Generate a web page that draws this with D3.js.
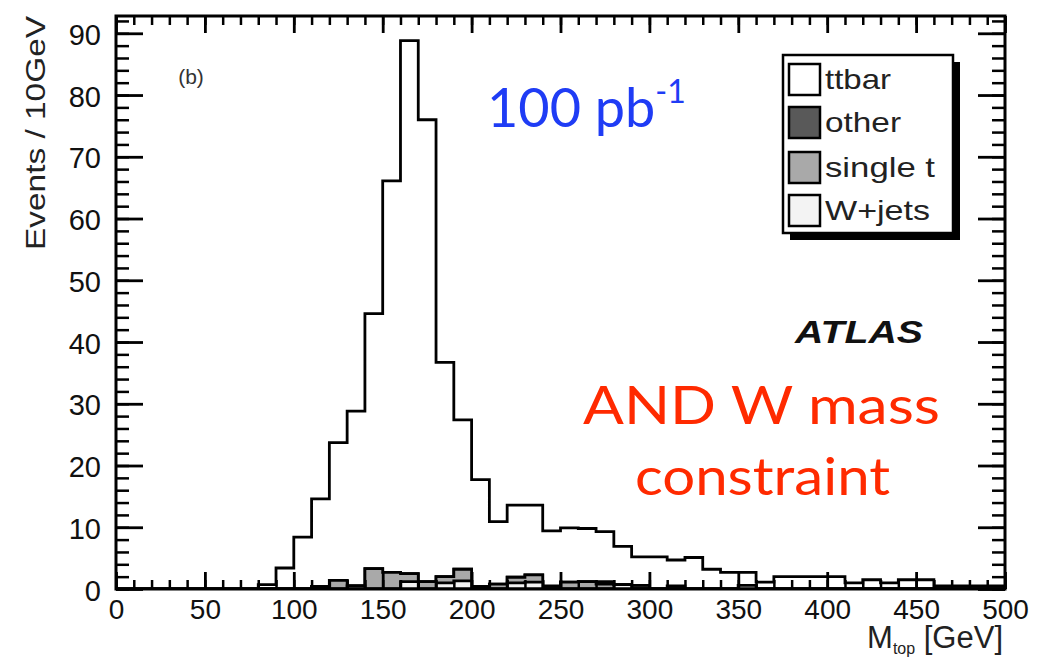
<!DOCTYPE html>
<html>
<head>
<meta charset="utf-8">
<script src="https://cdn.jsdelivr.net/npm/d3@7"></script>
<style>
  html, body { margin: 0; padding: 0; background: #fff; }
  svg { display: block; }
</style>
</head>
<body>
<svg id="chart" width="1037" height="667"></svg>
<script>
// Reconstructed top-quark mass, 10 GeV bins from 0 to 500 GeV
const binLow = d3.range(0, 500, 10);

const ttbar = [
  0, 0, 0, 0, 0, 0, 0, 0, 0.7, 3.4,
  8.4, 14.2, 22.3, 28.3, 41.3, 63.4, 86.3, 74.8, 34.7, 24.2,
  17.3, 10.1, 11.7, 11.3, 8.9, 8.8, 8.6, 8.1, 6.2, 4.6,
  5.2, 4.2, 5.1, 3.2, 2.7, 2.1, 1.1, 2.0, 2.0, 2.0,
  2.0, 1.0, 1.5, 1.0, 1.5, 1.5, 0.5, 0.5, 0.5, 0.5
];
const other = [
  0, 0, 0, 0, 0, 0, 0, 0, 0, 0,
  0, 0, 0, 0, 0, 0, 0, 0, 0, 0,
  0, 0, 0, 0, 0.5, 0, 0, 0.4, 0, 0.6,
  0, 0.5, 0, 0, 0, 0, 0, 0, 0, 0,
  0, 0, 0, 0, 0, 0, 0, 0, 0, 0
];
const singleTop = [
  0, 0, 0, 0, 0, 0, 0, 0, 0, 0,
  0, 0, 1.4, 0, 3.3, 2.7, 1.3, 1.2, 1.0, 1.9,
  0, 0.8, 0.9, 1.2, 0, 1.1, 1.2, 0.8, 0, 0,
  0, 0, 0, 0, 0, 0, 0, 0, 0, 0,
  0, 0, 0, 0, 0, 0, 0, 0, 0, 0
];
const wjets = [
  0, 0, 0, 0, 0, 0, 0, 0, 0, 0,
  0, 0.4, 0, 0.5, 0, 0, 1.2, 0, 1.0, 1.3,
  0.4, 0, 1.0, 1.1, 0, 0, 0, 0, 0.7, 0,
  0, 0, 0, 0, 0, 0.6, 0, 0, 0, 0,
  0, 0, 0, 0, 0, 0, 0, 0, 0, 0
];

const xMajorTicks = [0, 50, 100, 150, 200, 250, 300, 350, 400, 450, 500];
const xMinorTicks = d3.range(0, 501, 10);
const yMajorTicks = [0, 10, 20, 30, 40, 50, 60, 70, 80, 90];
const yMinorTicks = d3.range(0, 93, 2);

const legendLabels = ["ttbar", "other", "single t", "W+jets"];
const legendColors = ["#ffffff", "#595959", "#a9a9a9", "#f3f3f3"];
const legendWidths = [66, 76, 110, 105];

// Stack order (bottom to top) and fills
const stackKeys = ["wjets", "singleTop", "other", "ttbar"];
const fillOf = { ttbar: "#ffffff", other: "#595959", singleTop: "#a9a9a9", wjets: "#f3f3f3" };

const svg = d3.select("#chart");
const L = 116, R = 1005, T = 16, B = 589;

const x = d3.scaleLinear().domain([0, 500]).range([L, R]);
const y = d3.scaleLinear().domain([0, 92.8]).range([B, T]);

// Build stacked series; add a closing point at the upper edge of the last bin
const rows = binLow.map((lo, i) => ({
  lo, ttbar: ttbar[i], other: other[i], singleTop: singleTop[i], wjets: wjets[i]
}));
const series = d3.stack().keys(stackKeys)(rows);

svg.append("defs").append("clipPath").attr("id", "frameClip")
  .append("rect").attr("x", L).attr("y", T).attr("width", R - L).attr("height", B - T);

const area = d3.area()
  .x(d => x(d.lo))
  .y0(y(0))
  .y1(d => y(d.top))
  .curve(d3.curveStepAfter);

const histG = svg.append("g").attr("clip-path", "url(#frameClip)");
// Draw the cumulative levels from the top of the stack downward
series.slice().reverse().forEach(s => {
  const pts = s.map((d, i) => ({ lo: binLow[i], top: d[1] }));
  pts.push({ lo: 500, top: pts[pts.length - 1].top });
  histG.append("path")
    .attr("d", area(pts))
    .attr("fill", fillOf[s.key])
    .attr("stroke", "#000")
    .attr("stroke-width", 2.8)
    .attr("stroke-linejoin", "miter");
});

// Axes: ticks point inward on all four sides
const font = "'Liberation Sans', Arial, Helvetica, sans-serif";

function styleAxis(g, width) {
  g.select(".domain").remove();
  g.selectAll(".tick line").attr("stroke", "#000").attr("stroke-width", width);
  g.selectAll("text").attr("font-family", font).attr("fill", "#111");
}

// bottom
svg.append("g").attr("transform", `translate(0,${B})`)
  .call(d3.axisBottom(x).tickValues(xMinorTicks).tickSize(-9).tickFormat(""))
  .call(g => styleAxis(g, 2.5));
svg.append("g").attr("transform", `translate(0,${B})`)
  .call(d3.axisBottom(x).tickValues(xMajorTicks).tickSize(-17).tickPadding(9).tickFormat(d3.format("d")))
  .call(g => styleAxis(g, 2.8))
  .call(g => g.selectAll("text").attr("font-size", 28).attr("dy", "0.76em"));
// top
svg.append("g").attr("transform", `translate(0,${T})`)
  .call(d3.axisTop(x).tickValues(xMinorTicks).tickSize(-9).tickFormat(""))
  .call(g => styleAxis(g, 2.5));
svg.append("g").attr("transform", `translate(0,${T})`)
  .call(d3.axisTop(x).tickValues(xMajorTicks).tickSize(-17).tickFormat(""))
  .call(g => styleAxis(g, 2.8));
// left
svg.append("g").attr("transform", `translate(${L},0)`)
  .call(d3.axisLeft(y).tickValues(yMinorTicks).tickSize(-13).tickFormat(""))
  .call(g => styleAxis(g, 2.5));
svg.append("g").attr("transform", `translate(${L},0)`)
  .call(d3.axisLeft(y).tickValues(yMajorTicks).tickSize(-27).tickPadding(15).tickFormat(d3.format("d")))
  .call(g => styleAxis(g, 2.8))
  .call(g => g.selectAll("text").attr("font-size", 29).attr("dy", "0.38em"));
// right
svg.append("g").attr("transform", `translate(${R},0)`)
  .call(d3.axisRight(y).tickValues(yMinorTicks).tickSize(-13).tickFormat(""))
  .call(g => styleAxis(g, 2.5));
svg.append("g").attr("transform", `translate(${R},0)`)
  .call(d3.axisRight(y).tickValues(yMajorTicks).tickSize(-27).tickFormat(""))
  .call(g => styleAxis(g, 2.8));

// frame
svg.append("rect")
  .attr("x", L).attr("y", T).attr("width", R - L).attr("height", B - T)
  .attr("fill", "none").attr("stroke", "#000").attr("stroke-width", 3);

// axis titles
svg.append("text")
  .attr("transform", `translate(45,${T}) rotate(-90)`)
  .attr("text-anchor", "end")
  .attr("font-family", font).attr("font-size", 28).attr("fill", "#222")
  .attr("textLength", 234).attr("lengthAdjust", "spacingAndGlyphs")
  .text("Events / 10GeV");

const xt = svg.append("text")
  .attr("x", 1003).attr("y", 648)
  .attr("text-anchor", "end")
  .attr("font-family", font).attr("font-size", 31).attr("fill", "#222");
xt.append("tspan").text("M");
xt.append("tspan").attr("font-size", 16).attr("dy", 6).text("top");
xt.append("tspan").attr("dy", -6).text(" [GeV]");

// panel tag
svg.append("text")
  .attr("x", 191).attr("y", 84).attr("text-anchor", "middle")
  .attr("font-family", font).attr("font-size", 21).attr("fill", "#333")
  .text("(b)");

// luminosity
const lumi = svg.append("text")
  .attr("x", 487).attr("y", 127)
  .attr("font-family", "Lato, 'Open Sans', sans-serif").attr("font-size", 54)
  .attr("fill", "#1f3cf5");
lumi.append("tspan").text("100 pb");
lumi.append("tspan").attr("font-size", 32).attr("dy", -24).text("-1");

// experiment label
svg.append("text")
  .attr("x", 795).attr("y", 343)
  .attr("font-family", font).attr("font-size", 31)
  .attr("font-weight", "bold").attr("font-style", "italic").attr("fill", "#111")
  .attr("textLength", 128).attr("lengthAdjust", "spacingAndGlyphs")
  .text("ATLAS");

// selection note
svg.append("text")
  .attr("x", 583).attr("y", 424)
  .attr("font-family", "Lato, 'Open Sans', sans-serif").attr("font-size", 53)
  .attr("fill", "#ff2a00")
  .attr("textLength", 357).attr("lengthAdjust", "spacingAndGlyphs")
  .text("AND W mass");
svg.append("text")
  .attr("x", 635).attr("y", 495)
  .attr("font-family", "Lato, 'Open Sans', sans-serif").attr("font-size", 53)
  .attr("fill", "#ff2a00")
  .attr("textLength", 255).attr("lengthAdjust", "spacingAndGlyphs")
  .text("constraint");

// legend
const lg = svg.append("g");
const lx = 783, ly = 55, lw = 170, lh = 178;
lg.append("rect").attr("x", lx + 7).attr("y", ly + 7).attr("width", lw).attr("height", lh).attr("fill", "#000");
lg.append("rect").attr("x", lx).attr("y", ly).attr("width", lw).attr("height", lh)
  .attr("fill", "#fff").attr("stroke", "#000").attr("stroke-width", 2.5);
const rowY = [79, 122, 167, 210];
legendLabels.forEach((lab, i) => {
  lg.append("rect")
    .attr("x", 789).attr("y", rowY[i] - 15).attr("width", 31).attr("height", 31)
    .attr("fill", legendColors[i]).attr("stroke", "#000").attr("stroke-width", 2.5);
  lg.append("text")
    .attr("x", 825).attr("y", rowY[i]).attr("dy", "0.36em")
    .attr("font-family", font).attr("font-size", 28).attr("fill", "#222")
    .attr("textLength", legendWidths[i]).attr("lengthAdjust", "spacingAndGlyphs")
    .text(lab);
});
</script>
</body>
</html>
